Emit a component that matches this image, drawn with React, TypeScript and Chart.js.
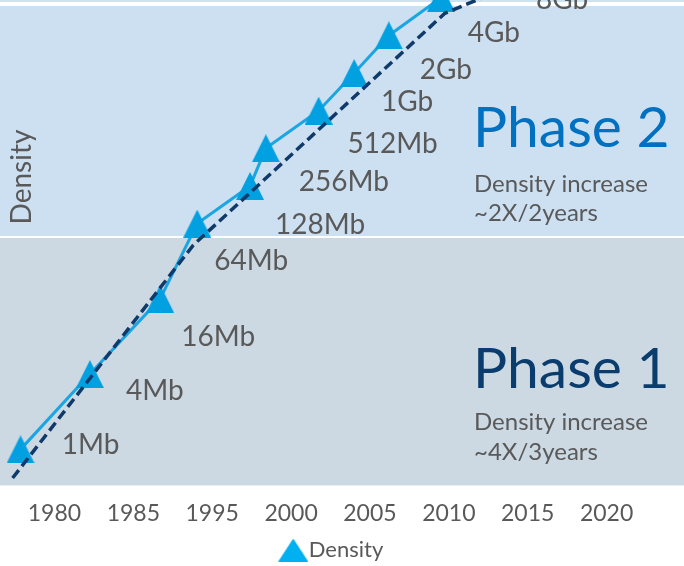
import React, { useEffect, useRef } from "react";
import { Chart, registerables } from "chart.js";

Chart.register(...registerables);

// ---- data ----
const tickLabels = ["1980", "1985", "1995", "2000", "2005", "2010", "2015", "2020"];
const chipNames = ["1Mb", "4Mb", "16Mb", "64Mb", "128Mb", "256Mb", "512Mb", "1Gb", "2Gb", "4Gb", "8Gb"];
const chipDensityMb = [1, 4, 16, 64, 128, 256, 512, 1024, 2048, 4096, 8192];
// position along the category axis (0 = "1980", 1 = "1985", 2 = "1995", ...)
const chipPosition = [-0.43, 0.45, 1.34, 1.81, 2.48, 2.68, 3.35, 3.8, 4.24, 4.9, 5.74];
const trendPosition = [-0.53, 1.76, 4.95, 6.15];
const trendDensityMb = [0.59, 43, 3078, 6375];
const phaseBoundaryMb = 50;
const yRange = { min: 0.515, max: 3932 };

// label placement relative to each marker (style)
const labelOffsets: [number, number][] = [
  [70, -4], [65, 17], [58, 38], [54, 37], [70, 39], [78, 34],
  [74, 33], [53, 29], [57, 35], [53, 35], [55, 40],
];

const FONT = "Lato";
const GRAY = "#595959";

function makeTriangle(w: number, h: number, leftPad: number, color: string) {
  const c = document.createElement("canvas");
  c.width = w + leftPad;
  c.height = h;
  const ctx = c.getContext("2d")!;
  ctx.fillStyle = color;
  ctx.beginPath();
  ctx.moveTo(leftPad, h);
  ctx.lineTo(leftPad + w / 2, 0);
  ctx.lineTo(leftPad + w, h);
  ctx.closePath();
  ctx.fill();
  return c;
}

export default function App() {
  const ref = useRef<HTMLCanvasElement | null>(null);

  useEffect(() => {
    document.body.style.margin = "0";
    document.body.style.overflow = "hidden";
    const canvas = ref.current!;
    const marker = makeTriangle(28, 28, 0, "#00A0E1");
    const legendMarker = makeTriangle(30, 23, 11, "#00B0F0");

    const bandsPlugin = {
      id: "bands",
      beforeDraw(chart: any) {
        const { ctx, chartArea, width } = chart;
        const y = chart.scales.y;
        const bnd = y.getPixelForValue(phaseBoundaryMb);
        ctx.save();
        ctx.fillStyle = "#CCE3F2";
        ctx.fillRect(0, chartArea.top, width, 2);
        ctx.fillStyle = "#CDE0F1";
        ctx.fillRect(0, chartArea.top + 6, width, bnd - 1 - (chartArea.top + 6));
        ctx.fillStyle = "#CCD9E3";
        ctx.fillRect(0, bnd + 1, width, chartArea.bottom - bnd - 1);
        ctx.restore();
      },
    };

    const textPlugin = {
      id: "texts",
      afterDatasetsDraw(chart: any) {
        const { ctx } = chart;
        const meta = chart.getDatasetMeta(0);
        ctx.save();
        ctx.fillStyle = GRAY;
        ctx.font = `28px ${FONT}`;
        ctx.textAlign = "center";
        ctx.textBaseline = "middle";
        meta.data.forEach((pt: any, i: number) => {
          const [dx, dy] = labelOffsets[i];
          ctx.fillText(chipNames[i], pt.x + dx, pt.y + dy);
        });

        // phase annotations
        ctx.textAlign = "left";
        ctx.textBaseline = "alphabetic";
        ctx.font = `57px ${FONT}`;
        ctx.fillStyle = "#0070C0";
        ctx.fillText("Phase 2", 473, 147);
        ctx.fillStyle = "#0B3C6E";
        ctx.fillText("Phase 1", 473, 388);
        ctx.font = `24px ${FONT}`;
        ctx.fillStyle = GRAY;
        ctx.fillText("Density increase", 474, 192);
        ctx.fillText("~2X/2years", 474, 221);
        ctx.fillText("Density increase", 474, 430);
        ctx.fillText("~4X/3years", 474, 460);

        // axis title
        ctx.translate(31, 177);
        ctx.rotate(-Math.PI / 2);
        ctx.textAlign = "center";
        ctx.font = `28px ${FONT}`;
        ctx.fillText("Density", 0, 0);
        ctx.restore();
      },
    };

    const chart = new Chart(canvas, {
      type: "line",
      data: {
        datasets: [
          {
            label: "Density",
            data: chipPosition.map((x, i) => ({ x, y: chipDensityMb[i] })),
            borderColor: "#1BA5E2",
            backgroundColor: "#00A0E1",
            borderWidth: 3,
            pointStyle: marker as any,
            pointRadius: 14,
            tension: 0,
            clip: false as any,
            order: 1,
          },
          {
            label: "Trend",
            data: trendPosition.map((x, i) => ({ x, y: trendDensityMb[i] })),
            borderColor: "#0F3A6A",
            borderWidth: 3.5,
            borderDash: [10, 5],
            pointRadius: 0,
            tension: 0,
            clip: false as any,
            order: 0,
          },
        ],
      },
      options: {
        animation: false,
        responsive: false,
        layout: { autoPadding: false, padding: { left: 15, right: 38, top: 0, bottom: 0 } },
        scales: {
          x: {
            type: "linear",
            min: -0.5,
            max: 7.5,
            bounds: "data",
            afterBuildTicks: (scale: any) => {
              scale.ticks = tickLabels.map((_, i) => ({ value: i }));
            },
            ticks: {
              autoSkip: false,
              maxRotation: 0,
              padding: 8,
              color: GRAY,
              font: { family: FONT, size: 23 },
              callback: (v: any) => tickLabels[v as number] ?? "",
            },
            grid: { display: false, drawTicks: true, tickLength: 6 },
            border: { display: false },
          },
          y: {
            type: "logarithmic",
            display: false,
            min: yRange.min,
            max: yRange.max,
            bounds: "data",
          },
        },
        plugins: {
          legend: {
            position: "bottom",
            labels: {
              usePointStyle: true,
              boxWidth: 20,
              padding: 4,
              color: GRAY,
              font: { family: FONT, size: 22 },
              filter: (item: any) => item.datasetIndex === 0,
              generateLabels: (ch: any) =>
                Chart.defaults.plugins.legend.labels
                  .generateLabels(ch)
                  .map((l: any) => ({ ...l, pointStyle: legendMarker })),
            },
          },
          tooltip: { enabled: false },
        },
      },
      plugins: [bandsPlugin, textPlugin],
    });
    return () => chart.destroy();
  }, []);

  return (
    <div style={{ width: 684, height: 566, overflow: "hidden", background: "#fff" }}>
      <canvas ref={ref} width={684} height={571} style={{ display: "block" }} />
    </div>
  );
}
